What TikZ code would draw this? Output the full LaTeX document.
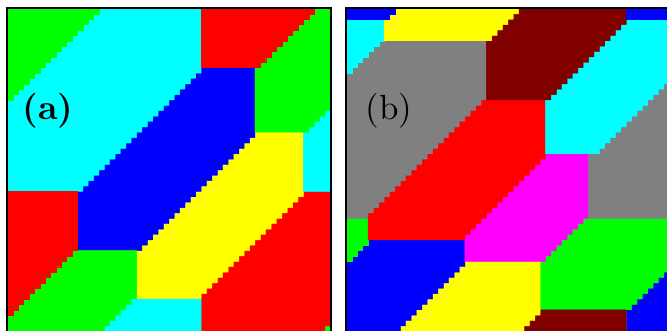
\documentclass[tikz,border=0pt]{standalone}
\usepackage{fontspec}
\newfontfamily\labfont{lmroman10-regular.otf}[BoldFont=lmroman10-bold.otf]
\definecolor{dgreen}{HTML}{00FF00}
\definecolor{dcyan}{HTML}{00FFFF}
\definecolor{dred}{HTML}{FF0000}
\definecolor{dblue}{HTML}{0000FF}
\definecolor{dyellow}{HTML}{FFFF00}
\definecolor{dmaroon}{HTML}{800000}
\definecolor{dgray}{HTML}{808080}
\definecolor{dmagenta}{HTML}{FF00FF}
\tikzset{
  % dominio di un colore
  dom/.style={fill=#1, draw=#1, line width=0.2pt},
  % cornice del pannello
  pframe/.style={draw=black, line width=0.9pt},
  % etichetta del pannello
  plabel/.style={inner sep=0pt, font=\labfont\fontsize{18.5}{20}\selectfont},
}
% gradini di un bordo a 45 gradi (una cella per gradino)
\newcommand{\scala}[1]{\foreach \k in {1,...,#1}{ -- ++(0,1) -- ++(-1,0)}}

\begin{document}
\begin{tikzpicture}[x=1mm, y=-1mm]
  \clip (0,0) rectangle (123.98,61.52);
  % pannello (a)
  \begin{scope}[shift={(1.394,1.580)}]
    \path[dom=dgreen] (60,58) -- (60,60) -- (58,60) -- cycle;
    \path[dom=dred] (55,34) -- (60,34) -- (60,58) \scala{2} -- (36,60) -- (36,53) -- cycle;
    \path[dom=dyellow] (46,23) -- (55,23) -- (55,34) \scala{19} -- (36,54) -- (24,54) -- (24,45) -- cycle;
    \path[dom=dblue] (36,11) -- (46,11) -- (46,23) \scala{22} -- (13,45) -- (13,34) -- cycle;
    \path[dom=dcyan] (17,0) -- (36,0) -- (36,11) \scala{23} -- (0,34) -- (0,17) -- cycle;
    \path[dom=dgreen] (0,0) -- (17,0) \scala{17} -- cycle;
    \path[dom=dcyan] (60,18) -- (60,34) -- (55,34) -- (55,23) -- cycle;
    \path[dom=dgreen] (57,0) -- (60,0) -- (60,18) \scala{5} -- (46,23) -- (46,11) -- cycle;
    \path[dom=dred] (36,0) -- (57,0) \scala{11} -- (36,11) -- cycle;
    \path[dom=dcyan] (23,54) -- (36,54) -- (36,60) -- (17,60) -- cycle;
    \path[dom=dgreen] (12,45) -- (24,45) -- (24,54) -- (23,54) \scala{6} -- (0,60) -- (0,57) -- cycle;
    \path[dom=dred] (0,34) -- (13,34) -- (13,45) -- (12,45) \scala{12} -- cycle;
    \draw[pframe] (-0.15,-0.15) rectangle (60.15,62);
    \node[plabel, font=\labfont\fontsize{18.5}{20}\selectfont\bfseries] (lbla) at (7.5,19) {(a)};
  \end{scope}
  % pannello (b)
  \begin{scope}[shift={(64.41,1.580)}]
    \path[dom=dblue] (60,48) -- (60,60) -- (52,60) -- (52,56) -- cycle;
    \path[dom=dgreen] (44,39) -- (60,39) -- (60,48) \scala{8} -- (36,56) -- (36,47) -- cycle;
    \path[dom=dmaroon] (36,56) -- (52,56) -- (52,60) -- (32,60) -- cycle;
    \path[dom=dyellow] (22,47) -- (36,47) -- (36,56) \scala{4} -- (9,60) -- cycle;
    \path[dom=dblue] (4,43) -- (22,43) -- (22,47) \scala{13} -- (0,60) -- (0,47) -- cycle;
    \path[dom=dgreen] (0,39) -- (4,39) -- (4,43) \scala{4} -- cycle;
    \path[dom=dmagenta] (37,27) -- (45,27) -- (45,39) -- (44,39) \scala{8} -- (22,47) -- (22,42) -- cycle;
    \path[dom=dred] (25,17) -- (37,17) -- (37,27) \scala{15} -- (22,43) -- (4,43) -- (4,38) -- cycle;
    \path[dom=dgray] (6,6) -- (26,6) -- (26,17) -- (25,17) \scala{21} -- (4,39) -- (0,39) -- (0,12) -- cycle;
    \path[dom=dcyan] (0,2) -- (7,2) -- (7,6) -- (6,6) \scala{6} -- cycle;
    \path[dom=dgray] (60,13) -- (60,39) -- (45,39) -- (45,27) -- (46,27) -- cycle;
    \path[dom=dcyan] (52,2) -- (60,2) -- (60,13) \scala{14} -- (37,27) -- (37,17) -- cycle;
    \path[dom=dmaroon] (32,0) -- (52,0) -- (52,2) \scala{15} -- (26,17) -- (26,6) -- cycle;
    \path[dom=dyellow] (9,0) -- (32,0) \scala{6} -- (7,6) -- (7,2) -- cycle;
    \path[dom=dblue] (52,0) -- (60,0) -- (60,2) -- (52,2) -- cycle;
    \path[dom=dblue] (0,0) -- (9,0) \scala{2} -- (0,2) -- cycle;
    \draw[pframe] (-0.15,-0.15) rectangle (62,62);
    \node[plabel] (lblb) at (7.9,19) {(b)};
  \end{scope}
\end{tikzpicture}
\end{document}
